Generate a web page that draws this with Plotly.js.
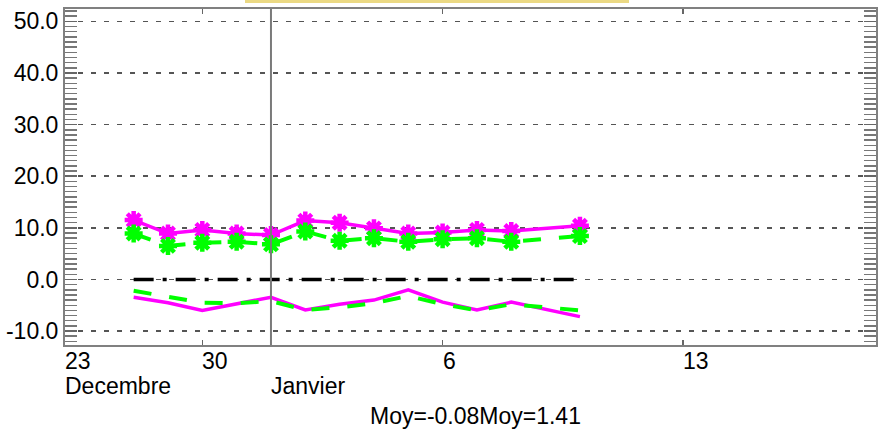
<!DOCTYPE html>
<html>
<head>
<meta charset="utf-8">
<script src="https://cdn.plot.ly/plotly-3.0.1.min.js"></script>
<style>html,body{margin:0;padding:0;background:#fff;}#chart{width:885px;height:429px;}</style>
</head>
<body>
<div id="chart"></div>
<script>
// ---- data ----
const dates = ['2012-12-28','2012-12-29','2012-12-30','2012-12-31','2013-01-01','2013-01-02','2013-01-03','2013-01-04','2013-01-05','2013-01-06','2013-01-07','2013-01-08','2013-01-10'];
const magentaUpper = [11.5, 8.9, 9.6, 8.9, 8.6, 11.4, 11.0, 9.9, 8.9, 9.1, 9.6, 9.4, 10.4];
const greenUpper   = [8.9, 6.5, 7.1, 7.3, 6.8, 9.3, 7.5, 8.0, 7.3, 7.8, 8.0, 7.3, 8.4];
const magentaLower = [-3.45, -4.5, -6.0, -4.7, -3.45, -5.9, -4.8, -4.0, -2.0, -4.4, -5.9, -4.4, -7.2];
const greenLower   = [-2.2, -3.3, -4.5, -4.6, -4.2, -5.9, -5.4, -4.6, -3.2, -4.8, -6.0, -4.8, -6.0];
const zeroRef      = [0, 0, 0, 0, 0, 0, 0, 0, 0, 0, 0, 0, 0];

const xRange = ['2012-12-26 00:00', '2013-01-18 15:00'];
const yTicks = [-10, 0, 10, 20, 30, 40, 50];
const yTickText = ['-10.0', '0.0', '10.0', '20.0', '30.0', '40.0', '50.0'];
const xTickDates = ['2012-12-30', '2013-01-06', '2013-01-13'];
const dayLabels = [
  {x: xRange[0], text: '23'},
  {x: '2012-12-30', text: '30'},
  {x: '2013-01-06', text: '6'},
  {x: '2013-01-13', text: '13'}
];
const monthLabels = [
  {x: xRange[0], text: 'Decembre'},
  {x: '2013-01-01', text: 'Janvier'}
];
const monthBoundary = '2013-01-01';
const statsText = 'Moy=-0.08Moy=1.41';

const FONT = 'Liberation Sans, Arial, Helvetica, sans-serif';
const FS = 23;
const MAG = '#ff00ff', GRN = '#00ff00';

const traces = [
  {x: dates, y: zeroRef, mode: 'lines', line: {color: '#000', width: 3.5, dash: '20px,9px,4px,9px'}, hoverinfo: 'skip'},
  {x: dates, y: magentaUpper, mode: 'lines+markers', line: {color: MAG, width: 3.5},
   marker: {symbol: 'asterisk-open', size: 15, color: MAG, line: {color: MAG, width: 4.5}}},
  {x: dates, y: magentaLower, mode: 'lines', line: {color: MAG, width: 3.5}},
  {x: dates, y: greenUpper, mode: 'lines+markers', line: {color: GRN, width: 4, dash: '18px,18px'},
   marker: {symbol: 'asterisk-open', size: 15, color: GRN, line: {color: GRN, width: 4.5}}},
  {x: dates, y: greenLower, mode: 'lines', line: {color: GRN, width: 4, dash: '18px,18px'}}
];

const annotations = [];
dayLabels.forEach(d => annotations.push({
  x: d.x, xref: 'x', y: 0, yref: 'paper', yanchor: 'top', xanchor: 'left',
  yshift: -1, xshift: -2, text: d.text, showarrow: false, font: {family: FONT, size: FS, color: '#000'}
}));
monthLabels.forEach(d => annotations.push({
  x: d.x, xref: 'x', y: 0, yref: 'paper', yanchor: 'top', xanchor: 'left',
  yshift: -26, xshift: -2, text: d.text, showarrow: false, font: {family: FONT, size: FS, color: '#000'}
}));
annotations.push({
  x: (370 - 65) / 811, xref: 'paper', y: 0, yref: 'paper', yanchor: 'top', xanchor: 'left',
  yshift: -56, xshift: -2, text: statsText, showarrow: false, font: {family: FONT, size: FS, color: '#000'}
});

const layout = {
  width: 885, height: 429,
  margin: {l: 65, r: 9, t: 9, b: 84, pad: 0},
  paper_bgcolor: '#fff', plot_bgcolor: '#fff',
  showlegend: false,
  font: {family: FONT, size: FS, color: '#000'},
  xaxis: {
    type: 'date', range: xRange, showgrid: false, zeroline: false,
    showline: true, linecolor: '#808080', linewidth: 2, mirror: 'ticks',
    ticks: 'inside', ticklen: 5, tickwidth: 1.5, tickcolor: '#666',
    tickmode: 'array', tickvals: xTickDates, showticklabels: false
  },
  yaxis: {
    range: [-12.7, 52.4], showline: true, linecolor: '#808080', linewidth: 2, mirror: 'ticks',
    ticks: 'inside', ticklen: 12, tickwidth: 1.5, tickcolor: '#666',
    tickmode: 'array', tickvals: yTicks, ticktext: yTickText,
    tickfont: {family: FONT, size: FS, color: '#000'},
    showgrid: true, gridcolor: '#555', gridwidth: 1.5, griddash: '5px,8px',
    zeroline: false,
    minor: {dtick: 1, tick0: 0, ticks: 'inside', ticklen: 12, tickwidth: 1.5, tickcolor: '#777', showgrid: false}
  },
  shapes: [
    {type: 'line', xref: 'x', yref: 'paper', x0: monthBoundary, x1: monthBoundary, y0: 0, y1: 1,
     line: {color: '#7a7a7a', width: 2}},
    {type: 'rect', xref: 'paper', yref: 'paper', x0: (245 - 65) / 811, x1: (629 - 65) / 811,
     y0: 1 + 6 / 336, y1: 1 + 12 / 336, fillcolor: '#ebd984', line: {width: 0}, layer: 'above'}
  ],
  annotations: annotations
};

Plotly.newPlot('chart', traces, layout, {displayModeBar: false, staticPlot: true});
</script>
</body>
</html>
